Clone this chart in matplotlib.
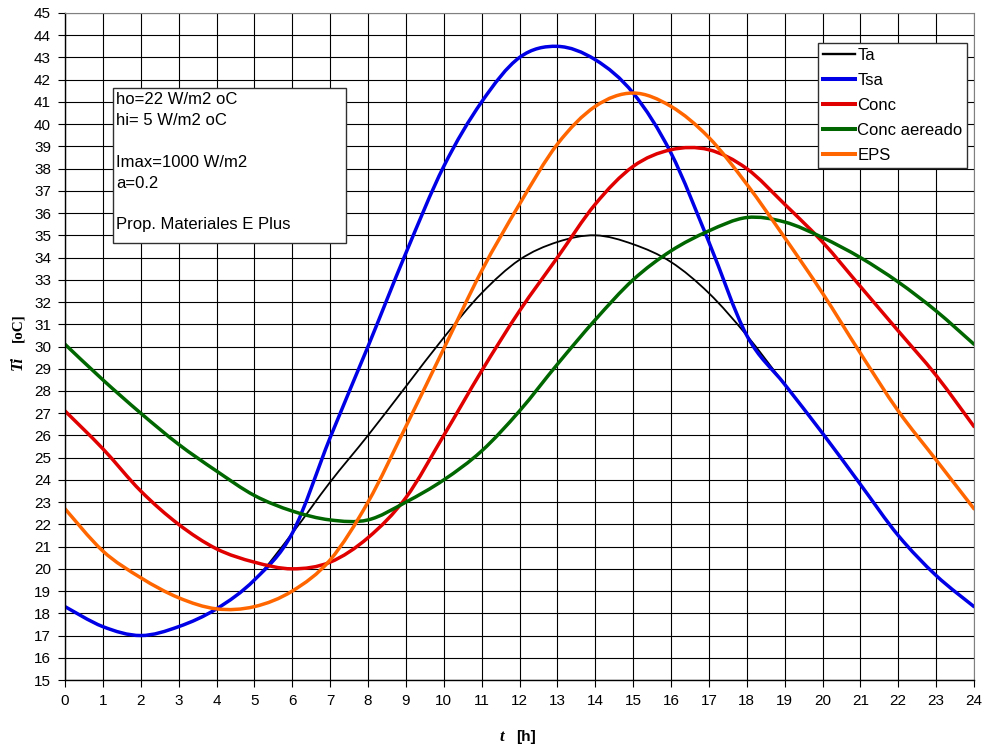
import matplotlib
matplotlib.use("Agg")
import matplotlib.pyplot as plt
from matplotlib.patches import Rectangle, PathPatch
from matplotlib.path import Path
from matplotlib.lines import Line2D
import numpy as np

plt.rcParams['font.family'] = ['Liberation Sans', 'DejaVu Sans']

# hours of the day
hours = list(range(25))

# temperatures (oC)
ta = [18.3, 17.4, 17.0, 17.4, 18.2, 19.5, 21.6, 23.9, 26.0, 28.2, 30.4, 32.4, 33.9,
      34.7, 35.0, 34.6, 33.8, 32.4, 30.5, 28.3, 26.1, 23.8, 21.5, 19.7, 18.3]
tsa = [18.3, 17.4, 17.0, 17.4, 18.2, 19.5, 21.6, 25.9, 30.0, 34.2, 38.1, 41.0, 43.0,
       43.5, 42.9, 41.4, 38.7, 34.7, 30.5, 28.3, 26.1, 23.8, 21.5, 19.7, 18.3]
conc = [27.1, 25.4, 23.5, 22.0, 20.9, 20.3, 20.0, 20.3, 21.4, 23.2, 26.0, 28.9, 31.6,
        34.0, 36.4, 38.1, 38.85, 38.85, 38.0, 36.4, 34.7, 32.7, 30.7, 28.7, 26.4]
conc_aereado = [30.1, 28.5, 27.0, 25.6, 24.4, 23.3, 22.6, 22.2, 22.2, 23.0, 24.0, 25.3, 27.1,
                29.2, 31.2, 33.0, 34.3, 35.2, 35.8, 35.6, 34.9, 34.0, 32.9, 31.6, 30.1]
eps = [22.7, 20.8, 19.6, 18.7, 18.2, 18.3, 19.0, 20.4, 23.0, 26.4, 29.9, 33.4, 36.4,
       39.1, 40.8, 41.4, 40.8, 39.4, 37.3, 34.9, 32.4, 29.7, 27.1, 24.9, 22.7]

labels = ['Ta', 'Tsa', 'Conc', 'Conc aereado', 'EPS']
colors = ['#000000', '#0000E6', '#E00000', '#006600', '#FF6600']
widths = [1.3, 2.5, 2.5, 2.5, 2.5]

info_lines = ['ho=22 W/m2 oC', 'hi= 5 W/m2 oC', '', 'Imax=1000 W/m2', 'a=0.2', '',
              'Prop. Materiales E Plus']


def smooth_path(x, y):
    # smoothed line through the data points (like a spreadsheet "smoothed line")
    pts = np.column_stack([x, y]).astype(float)
    n = len(pts)
    verts = [pts[0]]
    codes = [Path.MOVETO]
    for i in range(n - 1):
        p0 = pts[max(i - 1, 0)]
        p1 = pts[i]
        p2 = pts[i + 1]
        p3 = pts[min(i + 2, n - 1)]
        verts += [p1 + (p2 - p0) / 6, p2 - (p3 - p1) / 6, p2]
        codes += [Path.CURVE4] * 3
    return Path(verts, codes)


fig = plt.figure(figsize=(9.84, 7.46), dpi=100)
ax = fig.add_axes([65 / 984, 1 - 680 / 746, 909 / 984, 667 / 746])

handles = []
for ys, lab, c, w in zip([ta, tsa, conc, conc_aereado, eps], labels, colors, widths):
    ax.add_patch(PathPatch(smooth_path(hours, ys), facecolor='none', edgecolor=c,
                           lw=w, capstyle='round', joinstyle='round'))
    handles.append(Line2D([], [], color=c, lw=w + 0.4, label=lab))

ax.set_xlim(0, 24)
ax.set_ylim(15, 45)
ax.set_xticks(range(0, 25))
ax.set_yticks(range(15, 46))
ax.grid(True, color='#000000', linewidth=0.8)
ax.set_axisbelow(True)
ax.tick_params(axis='both', labelsize=11, length=5, width=0.8, colors='black', pad=5)
for s in ['top', 'right']:
    ax.spines[s].set_color('#808080')
for s in ['left', 'bottom']:
    ax.spines[s].set_color('black')
    ax.spines[s].set_linewidth(1.0)

leg = fig.legend(handles=handles, loc='upper left', bbox_to_anchor=(818 / 984, 1 - 43 / 746),
                 fontsize=12, frameon=True, fancybox=False, edgecolor='#303030',
                 framealpha=1, handlelength=1.9, handletextpad=0.15,
                 labelspacing=0.6, borderpad=0.3, borderaxespad=0)
leg.get_frame().set_linewidth(1.0)

# parameter box
fig.patches.append(Rectangle((113 / 984, 1 - 243 / 746), 233 / 984, 155 / 746,
                             transform=fig.transFigure, facecolor='white',
                             edgecolor='#303030', lw=1.0, zorder=5))
y = 100
for line in info_lines:
    if line:
        fig.text(116 / 984, 1 - y / 746, line, fontsize=12, va='center', ha='left', zorder=6)
    y += 20.8

# axis labels
fig.text(502 / 984, 1 - 737 / 746, 't', fontsize=12, family='Liberation Serif',
         fontweight='bold', style='italic', ha='center', va='center')
fig.text(526 / 984, 1 - 737 / 746, '[h]', fontsize=11, fontweight='bold',
         ha='center', va='center')
fig.text(18 / 984, 1 - 363 / 746, 'Ti', fontsize=12, family='Liberation Serif',
         fontweight='bold', style='italic', rotation=90, ha='center', va='center')
fig.text(18 / 984, 1 - 328 / 746, '[oC]', fontsize=11, family='Liberation Serif',
         fontweight='bold', rotation=90, ha='center', va='center')

fig.savefig('out.png', dpi=100)
